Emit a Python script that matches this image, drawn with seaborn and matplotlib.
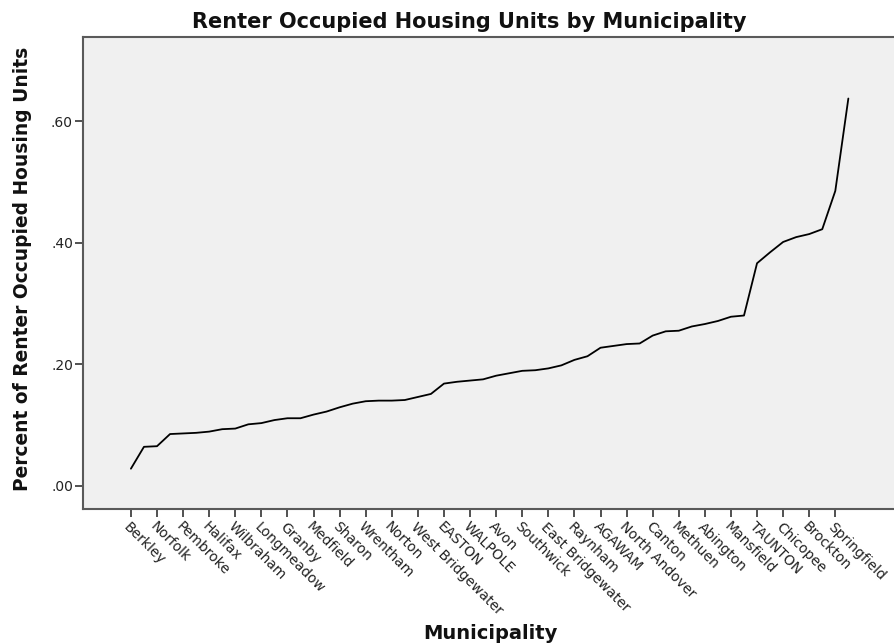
import numpy as np
import pandas as pd
import matplotlib
matplotlib.use("Agg")
import matplotlib.pyplot as plt
from matplotlib.ticker import FuncFormatter, FixedLocator
import seaborn as sns

# ---- data -------------------------------------------------------------
labeled_towns = ["Berkley", "Norfolk", "Pembroke", "Halifax", "Wilbraham",
                 "Longmeadow", "Granby", "Medfield", "Sharon", "Wrentham",
                 "Norton", "West Bridgewater", "EASTON", "WALPOLE", "Avon",
                 "Southwick", "East Bridgewater", "Raynham", "AGAWAM",
                 "North Andover", "Canton", "Methuen", "Abington", "Mansfield",
                 "TAUNTON", "Chicopee", "Brockton", "Springfield"]
# categories between the labelled ticks (their labels are skipped on the axis)
unlabeled_towns = ["Lakeville", "Plainville", "Hanson", "Hampden",
                   "East Longmeadow", "Ludlow", "Foxborough", "Westwood",
                   "Stoughton", "Seekonk", "Dighton", "Whitman", "Rehoboth",
                   "Bridgewater", "Holbrook", "Middleborough", "Randolph",
                   "Dracut", "Braintree", "Weymouth", "Rockland", "Attleboro",
                   "Palmer", "Westfield", "Easthampton", "New Bedford",
                   "Lawrence", "Holyoke"]
renter_share = [0.028, 0.064, 0.065, 0.085, 0.086, 0.087, 0.089, 0.093,
                0.094, 0.101, 0.103, 0.108, 0.111, 0.111, 0.117, 0.122,
                0.129, 0.135, 0.139, 0.140, 0.140, 0.141, 0.146, 0.151,
                0.168, 0.171, 0.173, 0.175, 0.181, 0.185, 0.189, 0.190,
                0.193, 0.198, 0.207, 0.213, 0.227, 0.230, 0.233, 0.234,
                0.247, 0.254, 0.255, 0.262, 0.266, 0.271, 0.278, 0.280,
                0.366, 0.384, 0.401, 0.409, 0.414, 0.422, 0.485, 0.637]
y_ticks = [0.0, 0.2, 0.4, 0.6]

municipalities = []
for a, b in zip(labeled_towns, unlabeled_towns):
    municipalities += [a, b]

df = pd.DataFrame({"Municipality": municipalities,
                   "rank": np.arange(len(municipalities)),
                   "Percent": renter_share})

# ---- style ------------------------------------------------------------
sns.set_style("ticks", {"axes.facecolor": "#F0F0F0",
                        "axes.edgecolor": "#5a5a5a"})
plt.rcParams["font.family"] = ["DejaVu Sans"]

fig = plt.figure(figsize=(8.94, 6.44), dpi=100)
ax = fig.add_axes([83.3 / 894, 1 - 509.3 / 644,
                   (894 - 83.3) / 894, (509.3 - 36.7) / 644])

sns.lineplot(data=df, x="rank", y="Percent", ax=ax, color="black",
             linewidth=1.3, sort=False, legend=False)

ax.set_xlim(-3.65, 58.5)
ax.set_ylim(-0.0388, 0.7387)

ax.xaxis.set_major_locator(FixedLocator(df["rank"].values[::2]))
ax.set_xticklabels(df["Municipality"].values[::2], rotation=-45,
                   ha="left", va="top", rotation_mode="anchor",
                   fontsize=10, color="#222222")
ax.set_yticks(y_ticks)
ax.yaxis.set_major_formatter(FuncFormatter(lambda v, p: f"{v:.2f}".lstrip("0")))
ax.tick_params(axis="y", labelsize=10, labelcolor="#222222", length=6,
               width=1.2, color="#333333", pad=1.5)
ax.tick_params(axis="x", length=6, width=1.2, color="#333333", pad=1.5)

for s in ["left", "top", "bottom"]:
    ax.spines[s].set_linewidth(1.5)
    ax.spines[s].set_color("#5a5a5a")
ax.spines["right"].set_visible(False)

ax.set_xlabel("")
ax.set_ylabel("")
fig.text(469.5 / 894, 1 - 28 / 644,
         "Renter Occupied Housing Units by Municipality",
         ha="center", va="baseline", fontsize=15, fontweight="bold",
         color="#111111")
fig.text(490 / 894, 1 - 639 / 644, "Municipality", ha="center",
         va="baseline", fontsize=14, fontweight="bold", color="#111111")
fig.text(32 / 894, 1 - 268.5 / 644,
         "Percent of Renter Occupied Housing Units", rotation=90,
         ha="right", va="center", fontsize=13.4, fontweight="bold",
         color="#111111")

fig.savefig("out.png", dpi=100)
